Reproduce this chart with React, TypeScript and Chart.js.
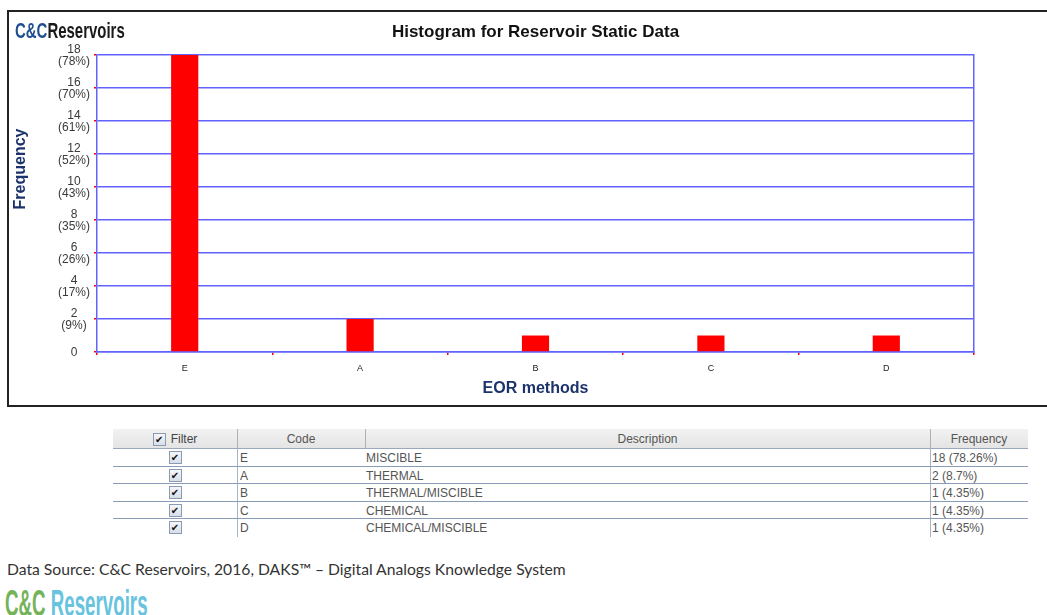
import React, { useEffect, useRef } from "react";
import { Chart, registerables } from "chart.js";

Chart.register(...registerables);

const categories = ["E", "A", "B", "C", "D"];
const frequencies = [18, 2, 1, 1, 1];
const yTickValues = [0, 2, 4, 6, 8, 10, 12, 14, 16, 18];
const yTickPercents = ["", "(9%)", "(17%)", "(26%)", "(35%)", "(43%)", "(52%)", "(61%)", "(70%)", "(78%)"];
const descriptions = ["MISCIBLE", "THERMAL", "THERMAL/MISCIBLE", "CHEMICAL", "CHEMICAL/MISCIBLE"];
const frequencyLabels = ["18 (78.26%)", "2 (8.7%)", "1 (4.35%)", "1 (4.35%)", "1 (4.35%)"];

const chartTitle = "Histogram for Reservoir Static Data";
const xTitle = "EOR methods";
const yTitle = "Frequency";

const BLUE = "#6262ff";
const RED = "#ff0000";
const NAVY = "#1c336b";
const FONT = "'Liberation Sans', Arial, sans-serif";

const textPlugin = {
  id: "extraTexts",
  afterDraw(chart: any) {
    const { ctx, chartArea } = chart;
    ctx.save();
    ctx.fillStyle = "#111";
    ctx.font = `bold 17px ${FONT}`;
    ctx.textAlign = "center";
    ctx.textBaseline = "middle";
    ctx.fillText(chartTitle, (chartArea.left + chartArea.right) / 2, 20);
    ctx.translate(12, 157);
    ctx.rotate(-Math.PI / 2);
    ctx.fillStyle = NAVY;
    ctx.font = `bold 16px ${FONT}`;
    ctx.fillText(yTitle, 0, 0);
    ctx.restore();
  },
};

function CheckBox() {
  return (
    <span
      style={{
        display: "inline-block",
        width: 11,
        height: 11,
        border: "1px solid #8a9ab0",
        background: "linear-gradient(#f4f6fa, #d8dee8)",
        fontSize: 10,
        lineHeight: "11px",
        textAlign: "center",
        color: "#111",
        fontFamily: "'DejaVu Sans', sans-serif",
        verticalAlign: "middle",
        boxSizing: "content-box",
      }}
    >
      ✔
    </span>
  );
}

export default function App() {
  const canvasRef = useRef<HTMLCanvasElement | null>(null);

  useEffect(() => {
    const canvas = canvasRef.current;
    if (!canvas) return;
    const chart = new Chart(canvas, {
      type: "bar",
      data: {
        labels: categories,
        datasets: [
          {
            data: frequencies,
            backgroundColor: RED,
            borderWidth: 0,
            categoryPercentage: 1,
            barPercentage: 0.155,
          },
        ],
      },
      options: {
        animation: false,
        responsive: false,
        maintainAspectRatio: false,
        layout: { padding: { left: 0, right: 0, top: 43, bottom: 0 } },
        plugins: {
          legend: { display: false },
          tooltip: { enabled: false },
          title: { display: false },
        },
        scales: {
          x: {
            afterFit: (s: any) => {
              s.height = 53;
            },
            ticks: { color: "#222", font: { family: FONT, size: 9 }, padding: 8 },
            grid: { drawOnChartArea: false, tickColor: RED, tickLength: 3, offset: true, lineWidth: 1.5 },
            border: { color: BLUE, width: 1.5 },
            title: {
              display: true,
              text: xTitle,
              color: NAVY,
              font: { family: FONT, size: 16, weight: "bold" },
              padding: { top: 0, bottom: 7 },
            },
          },
          y: {
            min: 0,
            max: 18,
            afterFit: (s: any) => {
              s.width = 88;
            },
            afterBuildTicks: (s: any) => {
              s.ticks = yTickValues.map((v) => ({ value: v }));
            },
            ticks: {
              crossAlign: "center",
              padding: 4,
              labelOffset: 1,
              color: "#3a3a3a",
              font: { family: FONT, size: 12, lineHeight: 0.98 },
              callback: (v: any) => {
                const i = yTickValues.indexOf(Number(v));
                const p = yTickPercents[i];
                return p ? [String(v), p] : String(v);
              },
            },
            grid: { color: BLUE, lineWidth: 1.5, tickColor: RED, tickLength: 3, tickWidth: 1.5 },
            border: { color: BLUE, width: 1.5 },
          },
          y2: {
            position: "right",
            min: 0,
            max: 18,
            afterFit: (s: any) => {
              s.width = 73;
            },
            ticks: { display: false },
            grid: { drawOnChartArea: false, drawTicks: false },
            border: { color: BLUE, width: 1.5 },
          },
        },
      } as any,
      plugins: [textPlugin],
    });
    return () => chart.destroy();
  }, []);

  const rowTop = (i: number) => 449 + i * 17.5;

  return (
    <div
      style={{
        position: "absolute",
        left: 0,
        top: 0,
        width: 1047,
        height: 615,
        overflow: "hidden",
        background: "#fff",
        fontFamily: FONT,
      }}
    >
      {/* chart frame */}
      <div
        style={{
          position: "absolute",
          left: 7,
          top: 10,
          width: 1060,
          height: 397,
          border: "2px solid #222",
          boxSizing: "border-box",
        }}
      />
      <canvas
        ref={canvasRef}
        width={1038}
        height={393}
        style={{ position: "absolute", left: 9, top: 12, width: 1038, height: 393 }}
      />
      {/* top-left logo */}
      <div
        style={{
          position: "absolute",
          left: 15,
          top: 20,
          fontSize: 22,
          lineHeight: "22px",
          fontWeight: "bold",
          whiteSpace: "nowrap",
          transform: "scaleX(0.68)",
          transformOrigin: "left top",
        }}
      >
        <span style={{ color: "#1f4f8f" }}>C&amp;C</span>
        <span style={{ color: "#1a1a1a" }}>Reservoirs</span>
      </div>

      {/* table */}
      <div
        style={{
          position: "absolute",
          left: 113,
          top: 429,
          width: 915,
          height: 20,
          background: "linear-gradient(#f2f2f2, #e4e4e4)",
          borderBottom: "1px solid #9aa8bc",
          boxSizing: "border-box",
        }}
      />
      {[237, 365, 930].map((x) => (
        <div key={x} style={{ position: "absolute", left: x, top: 429, width: 1, height: 20, background: "#b0b0b0" }} />
      ))}
      {[237, 930].map((x) => (
        <div key={"v" + x} style={{ position: "absolute", left: x, top: 449, width: 1, height: 88, background: "#a8b4c4" }} />
      ))}
      <div
        style={{
          position: "absolute",
          left: 113,
          top: 429,
          width: 124,
          height: 20,
          display: "flex",
          alignItems: "center",
          justifyContent: "center",
          fontSize: 12,
          color: "#444",
          gap: 5,
        }}
      >
        <CheckBox />
        <span>Filter</span>
      </div>
      {[
        { l: 237, w: 128, t: "Code" },
        { l: 365, w: 565, t: "Description" },
        { l: 930, w: 98, t: "Frequency" },
      ].map((h) => (
        <div
          key={h.t}
          style={{
            position: "absolute",
            left: h.l,
            top: 429,
            width: h.w,
            height: 20,
            lineHeight: "20px",
            textAlign: "center",
            fontSize: 12,
            color: "#555",
          }}
        >
          {h.t}
        </div>
      ))}
      {categories.map((c, i) => (
        <React.Fragment key={c}>
          {i < categories.length - 1 && (
            <div
              style={{
                position: "absolute",
                left: 113,
                top: rowTop(i + 1) - 1,
                width: 915,
                height: 1,
                background: "#8a9bb5",
              }}
            />
          )}
          <div
            style={{
              position: "absolute",
              left: 113,
              top: rowTop(i),
              width: 124,
              height: 17.5,
              display: "flex",
              alignItems: "center",
              justifyContent: "center",
            }}
          >
            <CheckBox />
          </div>
          {[
            { l: 240, t: c },
            { l: 366, t: descriptions[i] },
            { l: 932, t: frequencyLabels[i] },
          ].map((cell) => (
            <div
              key={cell.l}
              style={{
                position: "absolute",
                left: cell.l,
                top: rowTop(i),
                height: 17.5,
                lineHeight: "18px",
                fontSize: 12,
                color: "#555",
                whiteSpace: "nowrap",
              }}
            >
              {cell.t}
            </div>
          ))}
        </React.Fragment>
      ))}

      {/* footer */}
      <div
        style={{
          position: "absolute",
          left: 7,
          top: 560,
          fontFamily: "Lato, 'Open Sans', sans-serif",
          fontSize: 15.7,
          lineHeight: "18px",
          color: "#333",
          whiteSpace: "nowrap",
        }}
      >
        Data Source: C&amp;C Reservoirs, 2016, DAKS™ – Digital Analogs Knowledge System
      </div>
      <div
        style={{
          position: "absolute",
          left: 5,
          top: 586,
          fontSize: 36,
          lineHeight: "36px",
          fontWeight: "bold",
          whiteSpace: "nowrap",
          transform: "scaleX(0.52)",
          transformOrigin: "left top",
        }}
      >
        <span style={{ color: "#74b35a" }}>C&amp;C </span>
        <span style={{ color: "#68c3df" }}>Reservoirs</span>
      </div>
    </div>
  );
}
